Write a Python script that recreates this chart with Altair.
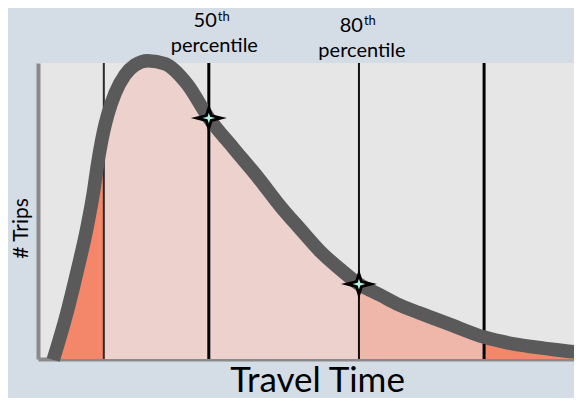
import altair as alt
import pandas as pd

# ---- data (arbitrary units: travel time 0-100, trips 0-100)
travel_time = [2.8, 5.3, 7.2, 9.0, 10.2, 10.9, 11.7, 12.1, 12.8, 14.2, 16.0, 17.8,
               20.2, 23.4, 27.4, 31.4, 35.9, 40.8, 44.5, 48.2, 51.8, 55.5, 59.0,
               62.9, 66.5, 70.2, 75.7, 82.0, 87.1, 93.2, 100.0, 103.3]
trips = [-0.3, 15.5, 29.7, 44.3, 56.4, 65.2, 73.7, 77.3, 82.4, 89.9, 96.0, 99.3,
         100.8, 99.7, 92.9, 81.4, 71.3, 60.5, 51.7, 43.9, 36.5, 30.4, 25.3,
         21.6, 18.2, 15.5, 11.7, 7.4, 5.2, 3.6, 2.2, 1.9]

marker_time = [12.1, 31.4, 59.0, 82.0]          # vertical lines
marker_width = [2, 3, 2, 3]
marker_color = ["#2b2b2b", "#000000", "#111111", "#000000"]

pct_labels = ["50", "80"]
pct_time = [31.4, 59.0]
pct_trips = [81.4, 25.3]

segments = ["low tail", "middle", "upper", "high tail"]
segment_colors = ["#f4876a", "#edd1cc", "#efb6aa", "#f4876a"]
segment_breaks = [0, 7, 22, 27, len(travel_time) - 1]

# ---- tables
curve_df = pd.DataFrame({"t": travel_time, "n": trips})
rows = []
for k, name in enumerate(segments):
    for i in range(segment_breaks[k], segment_breaks[k + 1] + 1):
        rows.append({"t": travel_time[i], "n": trips[i], "seg": name})
area_df = pd.DataFrame(rows)
rule_df = pd.DataFrame({"t": marker_time, "w": marker_width, "c": marker_color})
star_df = pd.DataFrame({"t": pct_time, "n": pct_trips, "lab": pct_labels})

FONT = "Lato"
PLOT_W, PLOT_H = 536, 296
xs = alt.Scale(domain=[0, 100 * PLOT_W / 544], nice=False, zero=False)
ys = alt.Scale(domain=[0, 100], nice=False, zero=False)

x_axis = alt.Axis(title="Travel Time", labels=False, ticks=False, grid=False,
                  domainColor="#8a8a8a", domainWidth=4,
                  titleFont=FONT, titleFontSize=35, titleFontWeight="normal",
                  titleColor="#000000", titleX=279, titleY=32,
                  titleBaseline="alphabetic", titleAlign="center")
y_axis = alt.Axis(title="# Trips", labels=False, ticks=False, grid=False,
                  domainColor="#8a8a8a", domainWidth=4,
                  titleFont=FONT, titleFontSize=21, titleFontWeight="normal",
                  titleColor="#000000", titleAngle=270, titleX=-11, titleY=165,
                  titleBaseline="alphabetic", titleAlign="center")

areas = alt.Chart(area_df).mark_area(interpolate="monotone", opacity=1).encode(
    x=alt.X("t:Q", scale=xs, axis=x_axis),
    y=alt.Y("n:Q", scale=ys, axis=y_axis, stack=None),
    color=alt.Color("seg:N", scale=alt.Scale(domain=segments, range=segment_colors), legend=None),
    detail="seg:N",
)

rules = alt.Chart(rule_df).mark_rule().encode(
    x=alt.X("t:Q", scale=xs),
    size=alt.Size("w:Q", scale=None),
    color=alt.Color("c:N", scale=None),
)

curve = alt.Chart(curve_df).mark_line(
    interpolate="monotone", strokeWidth=13.5, color="#5a5a5a"
).encode(x=alt.X("t:Q", scale=xs), y=alt.Y("n:Q", scale=ys))

STAR = "M-1,0 L-0.2,-0.2 L0,-0.82 L0.2,-0.2 L1,0 L0.2,0.2 L0,0.82 L-0.2,0.2 Z"
stars = alt.Chart(star_df).mark_point(
    shape=STAR, filled=True, color="#000000", size=1300, opacity=1, strokeWidth=0
).encode(x=alt.X("t:Q", scale=xs), y=alt.Y("n:Q", scale=ys))
star_core = alt.Chart(star_df).mark_point(
    shape=STAR, filled=True, color="#b4f3e4", size=170, opacity=1, strokeWidth=0
).encode(x=alt.X("t:Q", scale=xs), y=alt.Y("n:Q", scale=ys))

label_layers = []
# (number baseline, sup baseline, word baseline) in px relative to plot top; dx offsets
label_pos = [(-36, -42, -11, 8, 9, 5.5), (-31, -38, -6, 4, 5, 3)]
for i, lab in enumerate(pct_labels):
    yb, ysup, yw, dxn, dxs, dxw = label_pos[i]
    one = star_df.iloc[[i]]
    base = alt.Chart(one)
    label_layers.append(base.mark_text(align="right", baseline="alphabetic", dx=dxn,
                                       font=FONT, fontSize=20, color="#000000").encode(
        x=alt.X("t:Q", scale=xs), y=alt.value(yb), text="lab:N"))
    label_layers.append(base.mark_text(align="left", baseline="alphabetic", dx=dxs,
                                       font=FONT, fontSize=13, color="#000000").encode(
        x=alt.X("t:Q", scale=xs), y=alt.value(ysup), text=alt.value("th")))
    label_layers.append(base.mark_text(align="center", baseline="alphabetic", dx=dxw,
                                       font=FONT, fontSize=20, color="#000000").encode(
        x=alt.X("t:Q", scale=xs), y=alt.value(yw), text=alt.value("percentile")))

chart = alt.layer(areas, rules, curve, stars, star_core, *label_layers).properties(
    width=PLOT_W, height=PLOT_H,
    background="#d4dce6",
    padding={"left": 30, "top": 55, "right": 0, "bottom": 39},
    autosize=alt.AutoSizeParams(type="none"),
).configure_view(fill="#e6e6e6", stroke=None)

chart.save("out.html", embed_options={"renderer": "svg", "actions": False})
